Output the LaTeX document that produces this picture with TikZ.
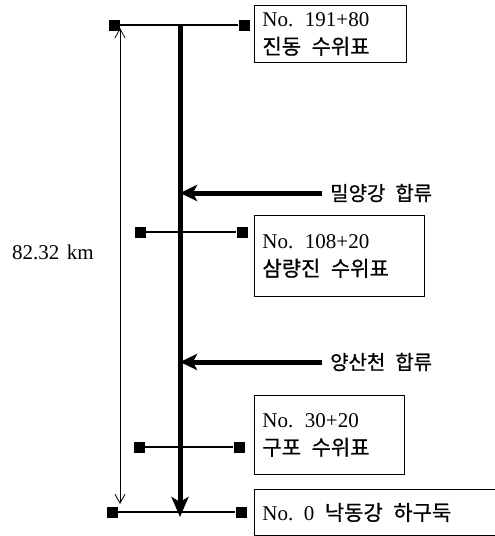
\documentclass[tikz,border=0pt]{standalone}
\usepackage{fontspec}
\setmainfont{Liberation Serif}
\newfontfamily\kr[FakeBold=0.7]{Noto Sans CJK KR}
\newcommand{\ksp}{\hspace{0.5em}}
\usetikzlibrary{arrows.meta}
\begin{document}
\begin{tikzpicture}[x=1pt,y=-1pt,
  sq/.style={fill=black,minimum size=11pt,inner sep=0pt},
  infobox/.style={draw,line width=0.9pt,anchor=north west,inner xsep=8pt,inner ysep=0pt,align=left,font=\fontsize{21}{28}\selectfont},
  lab/.style={anchor=west,inner sep=0pt,font=\kr\fontsize{20}{24}\selectfont},
  mainflow/.style={line width=5pt},
  tribflow/.style={line width=5pt,-{Stealth[length=17pt,width=16pt,inset=4pt]}},
  station/.style={line width=2.3pt},
  dimline/.style={line width=0.8pt,{Straight Barb[length=9pt,width=10pt]}-{Straight Barb[length=9pt,width=10pt]}}
]
\useasboundingbox (0,0) rectangle (495,536);

% squares
\node[sq] (l1) at (114,25) {};
\node[sq] (r1) at (244,25) {};
\node[sq] (l2) at (140,232) {};
\node[sq] (r2) at (242,232) {};
\node[sq] (l3) at (139,447) {};
\node[sq] (r3) at (239,447) {};
\node[sq] (l4) at (112,512) {};
\node[sq] (r4) at (241,512) {};

% station lines
\draw[station] (l1) -- (r1);
\draw[station] (l2) -- (r2);
\draw[station] (l3) -- (r3);
\draw[station] (l4) -- (r4);

% main river
\coordinate (mtop) at (180,24);
\coordinate (mbot) at (180,517);
\draw[mainflow,-{Stealth[length=20pt,width=17pt,inset=5pt]}] (mtop) -- (mbot);

% tributaries
\coordinate (t1s) at (322,193);
\coordinate (t1e) at (180,193);
\draw[tribflow] (t1s) -- (t1e);
\node[lab] (t1l) at (330,193) {밀양강\ksp 합류};

\coordinate (t2s) at (322,362);
\coordinate (t2e) at (180,362);
\draw[tribflow] (t2s) -- (t2e);
\node[lab] (t2l) at (330,362) {양산천\ksp 합류};

% dimension
\coordinate (dtop) at (120,28);
\coordinate (dbot) at (120,504);
\draw[dimline] (dtop) -- (dbot);
\node[anchor=west,inner sep=0pt,font=\fontsize{21}{24}\selectfont] (dl) at (12,252) {82.32\hspace{0.35em}km};

% boxes
\node[infobox,minimum height=57pt,text width=136pt] (b1) at (254,5)
  {No.\hspace{0.55em}191+80\\{\kr\fontsize{21}{28}\selectfont 진동\ksp 수위표}};
\node[infobox,minimum height=81pt,text width=154pt] (b2) at (254,215)
  {No.\hspace{0.55em}108+20\\{\kr\fontsize{21}{28}\selectfont 삼량진\ksp 수위표}};
\node[infobox,minimum height=79pt,text width=134pt] (b3) at (254,395)
  {No.\hspace{0.55em}30+20\\{\kr\fontsize{21}{28}\selectfont 구포\ksp 수위표}};
\node[infobox,minimum height=46pt,text width=240pt] (b4) at (254,489)
  {No.\hspace{0.5em}0\hspace{0.5em}{\kr\fontsize{21}{28}\selectfont 낙동강\ksp 하구둑}};
\end{tikzpicture}
\end{document}
